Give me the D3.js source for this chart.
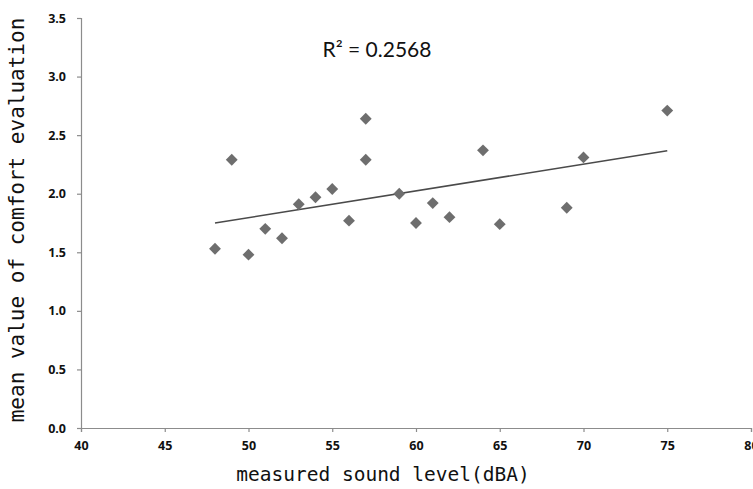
<!DOCTYPE html>
<html>
<head>
<meta charset="utf-8">
<script src="https://cdn.jsdelivr.net/npm/d3@7"></script>
<style>
  body { margin: 0; background: #fff; }
  svg { display: block; }
</style>
</head>
<body>
<svg class="chart"></svg>
<script>
// sound level (dBA) vs mean comfort value
const soundLevel = [48, 49, 50, 51, 52, 53, 54, 55, 56, 57, 57, 59, 60, 61, 62, 64, 65, 69, 70, 75]
const comfort = [1.53, 2.29, 1.48, 1.70, 1.62, 1.91, 1.97, 2.04, 1.77, 2.64, 2.29, 2.00, 1.75, 1.92, 1.80, 2.37, 1.74, 1.88, 2.31, 2.71]
const xTicks = [40, 45, 50, 55, 60, 65, 70, 75, 80]
const yTicks = [0, 0.5, 1, 1.5, 2, 2.5, 3, 3.5]
const rSquaredLabel = "R² = 0.2568"

const W = 753, H = 489
const margin = {top: 18, right: 2, bottom: 61, left: 81}
const width = W - margin.left - margin.right,
      height = H - margin.top - margin.bottom

let x = d3.scaleLinear().domain([40, 80]).range([0, width])
let y = d3.scaleLinear().domain([0, 3.5]).range([height, 0])

let svg = d3.select(".chart").attr("width", W).attr("height", H)
let chart = svg.append("g")
    .attr("transform", "translate(" + margin.left + "," + margin.top + ")")

const axisColor = "#8c8c8c"
const tickFont = "'Open Sans', 'Liberation Sans', sans-serif"

let xAxis = chart.append("g")
    .attr("transform", "translate(0," + height + ")")
    .call(d3.axisBottom(x).tickValues(xTicks).tickSize(4).tickPadding(9).tickFormat(d3.format("d")))
let yAxis = chart.append("g")
    .call(d3.axisLeft(y).tickValues(yTicks).tickSize(4).tickPadding(11).tickFormat(d3.format(".1f")))

;[xAxis, yAxis].forEach(a => {
  a.select(".domain").attr("stroke", axisColor).attr("stroke-width", 1.2)
  a.selectAll(".tick line").attr("stroke", axisColor).attr("stroke-width", 1.2)
  a.selectAll(".tick text")
    .attr("fill", "#111")
    .style("font-family", tickFont)
    .style("font-weight", "bold")
    .style("font-size", "12.5px")
})

// least squares trend line over the data range
const n = soundLevel.length
const mx = d3.mean(soundLevel), my = d3.mean(comfort)
let sxy = 0, sxx = 0
for (let i = 0; i < n; i++) {
  sxy += (soundLevel[i] - mx) * (comfort[i] - my)
  sxx += (soundLevel[i] - mx) * (soundLevel[i] - mx)
}
const slope = sxy / sxx, intercept = my - slope * mx
const xMin = d3.min(soundLevel), xMax = d3.max(soundLevel)

chart.append("line")
    .attr("x1", x(xMin)).attr("y1", y(intercept + slope * xMin))
    .attr("x2", x(xMax)).attr("y2", y(intercept + slope * xMax))
    .attr("stroke", "#4a4a4a")
    .attr("stroke-width", 1.6)

let diamond = d3.symbol().type(d3.symbolSquare).size(70)
chart.selectAll(".pt")
    .data(soundLevel.map((v, i) => [v, comfort[i]]))
  .enter().append("path")
    .attr("class", "pt")
    .attr("d", diamond)
    .attr("transform", d => "translate(" + x(d[0]) + "," + y(d[1]) + ") rotate(45)")
    .attr("fill", "#6e6e6e")

svg.append("text")
    .attr("x", 377).attr("y", 57)
    .attr("text-anchor", "middle")
    .style("font-family", "Lato, 'Open Sans', sans-serif")
    .style("font-size", "21px")
    .attr("fill", "#111")
    .text(rSquaredLabel)

const titleFont = "'DejaVu Sans Mono', 'Liberation Mono', monospace"
svg.append("text")
    .attr("x", 383).attr("y", 481)
    .attr("text-anchor", "middle")
    .style("font-family", titleFont)
    .style("font-size", "19.5px")
    .attr("fill", "#111")
    .text("measured sound level(dBA)")

svg.append("text")
    .attr("transform", "translate(24," + 220 + ") rotate(-90)")
    .attr("text-anchor", "middle")
    .style("font-family", titleFont)
    .style("font-size", "21px")
    .attr("fill", "#111")
    .text("mean value of comfort evaluation")
</script>
</body>
</html>
